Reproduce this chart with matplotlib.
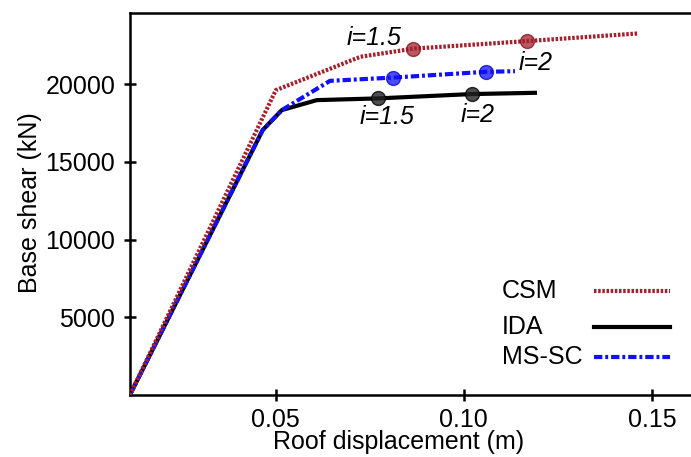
import matplotlib
matplotlib.use("Agg")
from matplotlib import pyplot as plt

plt.rcParams['font.family'] = ['Liberation Sans', 'DejaVu Sans']

# pushover curves (roof displacement in m, base shear in kN)
csm_x = [0.0112, 0.0500, 0.0725, 0.0865, 0.1169, 0.1464]
csm_y = [0, 19610, 21760, 22280, 22770, 23260]
ida_x = [0.0112, 0.0465, 0.0516, 0.0609, 0.0771, 0.1021, 0.1189]
ida_y = [0, 17040, 18330, 18970, 19080, 19360, 19440]
ms_x = [0.0112, 0.0465, 0.0516, 0.0644, 0.0811, 0.1058, 0.1136]
ms_y = [0, 17040, 18330, 20210, 20420, 20790, 20830]

# intensity points i=1.5 and i=2
csm_pts_x = [0.0865, 0.1169]
csm_pts_y = [22280, 22770]
ida_pts_x = [0.0771, 0.1021]
ida_pts_y = [19080, 19360]
ms_pts_x = [0.0811, 0.1058]
ms_pts_y = [20420, 20790]
pt_labels = ['i=1.5', 'i=2']

red = '#a3202c'
blue = '#1010ff'
fs = 18

fig = plt.figure(figsize=(6.91, 4.57), dpi=100)
ax = fig.add_axes([0.188, 0.1357, 0.837, 0.835])

styles = [dict(color=red, lw=3, ls=(0, (0.6, 0.4))),
          dict(color='black', lw=3),
          dict(color=blue, lw=3, ls=(0, (2, 0.7, 0.7, 0.7)))]
names = ['CSM', 'IDA', 'MS-SC']

ax.plot(csm_x, csm_y, zorder=3, **styles[0])
ax.plot(ida_x, ida_y, zorder=2, **styles[1])
ax.plot(ms_x, ms_y, zorder=2, **styles[2])

ax.plot(csm_pts_x, csm_pts_y, 'o', ms=10, mfc=red, mec='#801018', alpha=0.75, zorder=4)
ax.plot(ida_pts_x, ida_pts_y, 'o', ms=10, mfc='#222222', mec='black', alpha=0.8, zorder=4)
ax.plot(ms_pts_x, ms_pts_y, 'o', ms=10, mfc=blue, mec='#0000c0', alpha=0.75, zorder=4)

tfont = dict(fontsize=fs, style='italic')
ax.text(csm_pts_x[0] - 0.003, csm_pts_y[0] + 680, pt_labels[0], ha='right', va='center', **tfont)
ax.text(csm_pts_x[1] + 0.0022, csm_pts_y[1] - 1420, pt_labels[1], ha='center', va='center', **tfont)
ax.text(ida_pts_x[0] + 0.0026, ida_pts_y[0] - 1210, pt_labels[0], ha='center', va='center', **tfont)
ax.text(ida_pts_x[1] + 0.0015, ida_pts_y[1] - 1360, pt_labels[1], ha='center', va='center', **tfont)

# key drawn by hand, gnuplot style (left-justified text, sample on the right)
key_y = [0.272, 0.178, 0.0995]
for name, st, ky in zip(names, styles, key_y):
    ax.text(0.6436, ky, name, transform=ax.transAxes, fontsize=fs, ha='left', va='center')
    ax.plot([0.803, 0.934], [ky, ky], transform=ax.transAxes, **st)

ax.set_xlim(0.0112, 0.165)
ax.set_ylim(0, 24550)
ax.set_xticks([0.05, 0.10, 0.15])
ax.set_xticklabels(['0.05', '0.10', '0.15'])
ax.set_yticks([5000, 10000, 15000, 20000])
ax.tick_params(direction='inout', length=9, width=1.8, labelsize=fs)
ax.tick_params(axis='x', pad=5)
ax.tick_params(axis='y', pad=6)
for s in ax.spines.values():
    s.set_linewidth(1.8)

ax.set_xlabel('Roof displacement (m)', fontsize=fs)
ax.xaxis.set_label_coords(0.465, -0.092)
ax.set_ylabel('Base shear (kN)', fontsize=fs)
ax.yaxis.set_label_coords(-0.152, 0.505)

fig.savefig('out.png', dpi=100)
